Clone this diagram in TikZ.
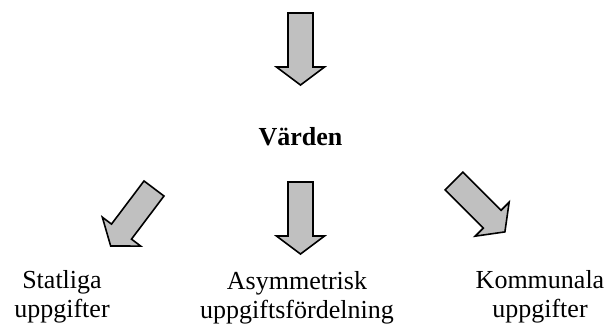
\documentclass[tikz,border=0pt]{standalone}
\usepackage{fontspec}
\setmainfont{Liberation Serif}
\usepackage{tikz}
\usetikzlibrary{positioning}

\begin{document}
\begin{tikzpicture}[x=0.75pt,y=0.75pt,yscale=-1,xscale=1,
  blockarr/.style={draw=black, line width=1.2pt, miter limit=10,
    fill={rgb, 255:red, 192; green, 192; blue, 192}},
  blockarrow/.pic={\draw [blockarr] (-12.5,0) -- (12.5,0) -- (12.5,-54) -- (24,-54) -- (0,-72) -- (-24,-54) -- (-12.5,-54) -- cycle;},
  lbl/.style={inner sep=0pt, align=center, font=\fontsize{19.5}{21.75}\selectfont}]
\useasboundingbox (0,0) rectangle (608,325);

%Shape: Down Arrow [id:top]
\pic (toparr) at (300.5,13) {blockarrow};
%Shape: Down Arrow [id:mid]
\pic (midarr) at (300.5,182) {blockarrow};
%Shape: Down Arrow [id:left]
\pic [rotate=-37] (leftarr) at (154,188.5) {blockarrow};
%Shape: Down Arrow [id:right]
\pic [rotate=45] (rightarr) at (454,181) {blockarrow};

% Text Node
\node (varden) [lbl, anchor=base] at (300.5,145) {\textbf{Värden}};
% Text Node
\node (statliga) [lbl, anchor=base] at (62,317) {Statliga\\uppgifter};
% Text Node
\node (asym) [lbl, anchor=base] at (297,318) {Asymmetrisk\\uppgiftsfördelning};
% Text Node
\node (kommunala) [lbl, anchor=base] at (540,317) {Kommunala\\uppgifter};

\end{tikzpicture}
\end{document}
